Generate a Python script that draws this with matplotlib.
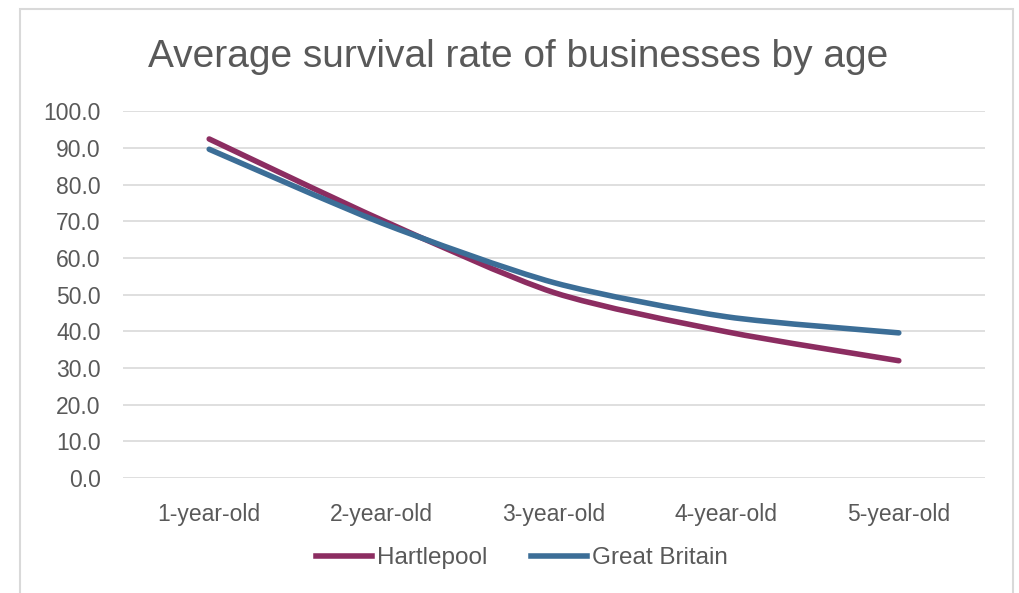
import numpy as np
import matplotlib
matplotlib.use("Agg")
import matplotlib.pyplot as plt
from matplotlib.path import Path
from matplotlib.patches import PathPatch, Rectangle
from matplotlib.lines import Line2D

# data
categories = ["1-year-old", "2-year-old", "3-year-old", "4-year-old", "5-year-old"]
hartlepool = [92.5, 70.4, 50.6, 39.9, 32.0]
great_britain = [89.7, 69.6, 53.3, 44.0, 39.6]
series_names = ["Hartlepool", "Great Britain"]
series_colors = ["#8C2D61", "#3C6E97"]

plt.rcParams['font.family'] = ['Liberation Sans', 'DejaVu Sans']


def smooth_path(xs, ys, k=8.0):
    # Excel style smoothed line: cardinal spline segments as cubic beziers
    pts = np.column_stack([np.asarray(xs, float), np.asarray(ys, float)])
    verts = [pts[0]]
    codes = [Path.MOVETO]
    n = len(pts)
    for i in range(n - 1):
        p0 = pts[i - 1] if i > 0 else pts[i]
        p1 = pts[i]
        p2 = pts[i + 1]
        p3 = pts[i + 2] if i + 2 < n else pts[i + 1]
        verts += [p1 + (p2 - p0) / k, p2 - (p3 - p1) / k, p2]
        codes += [Path.CURVE4] * 3
    return Path(verts, codes)


fig = plt.figure(figsize=(10.2, 5.93), dpi=100)
fig.patch.set_facecolor("white")

# outer chart border
fig.patches.append(Rectangle((20 / 1020, -0.01), 993 / 1020, 1 - 9 / 593 + 0.01,
                             transform=fig.transFigure, fill=False,
                             edgecolor="#D9D9D9", linewidth=1.5))

ax = fig.add_axes([123 / 1020, (593 - 478) / 593, 862 / 1020, 366.5 / 593])
x = np.arange(len(categories))
for vals, name, col in zip([hartlepool, great_britain], series_names, series_colors):
    patch = PathPatch(smooth_path(x, vals), facecolor="none", edgecolor=col,
                      linewidth=4, capstyle="round", joinstyle="round", zorder=3)
    ax.add_patch(patch)

ax.set_xlim(-0.5, len(categories) - 0.5)
ax.set_ylim(0, 100)
ax.set_yticks(np.arange(0, 101, 10))
ax.set_yticklabels([f"{v:.1f}" for v in np.arange(0, 101, 10)])
ax.set_xticks(x)
ax.set_xticklabels(categories)
ax.grid(axis="y", color="#D9D9D9", linewidth=1.2)
ax.set_axisbelow(True)
for s in ax.spines.values():
    s.set_visible(False)
ax.tick_params(length=0, labelsize=16.5, colors="#595959")
ax.tick_params(axis="y", pad=16)
ax.tick_params(axis="x", pad=18)

fig.text(518 / 1020, 1 - 57 / 593, "Average survival rate of businesses by age",
         ha="center", va="center", fontsize=28, color="#595959")

handles = [Line2D([], [], color=c, linewidth=4) for c in series_colors]
fig.legend(handles, series_names, loc="center", bbox_to_anchor=(522 / 1020, 1 - 558 / 593),
           ncol=2, frameon=False, fontsize=17.5, labelcolor="#595959",
           handlelength=2.3, handletextpad=0.2, columnspacing=1.8)

fig.savefig("out.png", dpi=100)
